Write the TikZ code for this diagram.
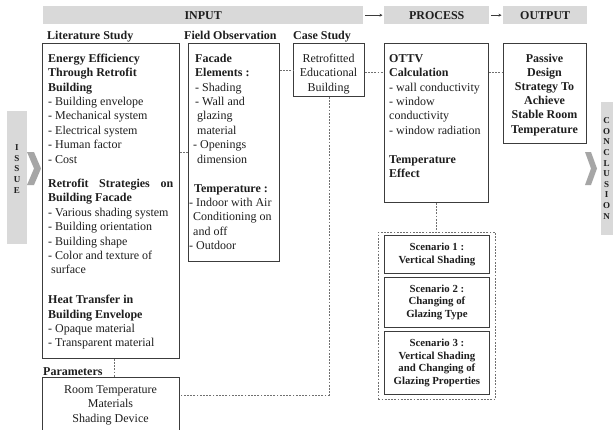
\documentclass[tikz,border=0pt]{standalone}
\usepackage{fontspec}
\setmainfont{Liberation Serif}
\usetikzlibrary{arrows.meta}
\definecolor{barc}{HTML}{D9D9D9}
\definecolor{chevc}{HTML}{A6A6A6}
\definecolor{linec}{HTML}{3C3C3C}
\definecolor{dashc}{HTML}{707070}
\definecolor{txtc}{HTML}{1E1E1E}
\tikzset{
  box/.style={draw=linec, line width=0.8pt, inner sep=0pt, anchor=north west},
  txt/.style={inner sep=0pt, anchor=north west, align=left, text=txtc, font=\fontsize{12}{14.4}\selectfont},
  ctxt/.style={txt, anchor=north, align=center},
  head/.style={inner sep=0pt, anchor=base west, text=txtc, font=\fontsize{12}{14.4}\selectfont\bfseries},
  bar/.style={fill=barc, inner sep=0pt, anchor=north west, text=txtc, font=\fontsize{12}{14.4}\selectfont\bfseries},
  link/.style={draw=dashc, line width=0.6pt, dash pattern=on 1.8pt off 1.4pt},
  scen/.style={box, align=center, text=txtc, font=\fontsize{10.8}{12.4}\selectfont\bfseries, minimum width=105pt},
  flow/.style={draw=linec, line width=0.6pt, -{Stealth[length=3pt,width=3pt]}},
  vlet/.style={inner sep=0pt, align=center, text=txtc, font=\fontsize{9}{10.6}\selectfont\bfseries},
}
\begin{document}
\begin{tikzpicture}[x=1pt,y=-1pt]
\useasboundingbox (0,0) rectangle (613,429);
\fill[white] (0,0) rectangle (613,429);

% top bars
\node[bar, minimum width=320pt, minimum height=18pt] (input) at (43,6) {INPUT};
\node[bar, minimum width=105pt, minimum height=18pt] (process) at (384,6) {PROCESS};
\node[bar, minimum width=84pt, minimum height=18pt] (output) at (503,6) {OUTPUT};
\draw[flow, shorten <=2pt, shorten >=1.5pt] (input.east) -- (process.west);
\draw[flow, shorten <=1.5pt, shorten >=1.5pt] (process.east) -- (output.west);

% side bars
\node[bar, minimum width=20pt, minimum height=133pt] (issue) at (7,111) {};
\node[vlet] (issuetxt) at (17,169) {I\\S\\S\\U\\E};
\fill[chevc] (27,152) -- (34,152) -- (41,168.5) -- (34,185) -- (27,185) -- (34,168.5) -- cycle;
\node[bar, minimum width=20pt, minimum height=133pt] (concl) at (601,102) {};
\node[vlet] (concltxt) at (606.5,168.5) {C\\O\\N\\C\\L\\U\\S\\I\\O\\N};
\fill[chevc] (585,152) -- (591,152) -- (597,168.5) -- (591,185) -- (585,185) -- (591,168.5) -- cycle;

% headings
\node[head] (hlit) at (47,39) {Literature Study};
\node[head] (hfield) at (184,39) {Field Observation};
\node[head] (hcase) at (293,39) {Case Study};
\node[head] (hparam) at (43,375) {Parameters};

% boxes
\node[box, minimum width=137pt, minimum height=315pt] (lit) at (42,43) {};
\node[box, minimum width=91pt, minimum height=218pt] (field) at (188,43) {};
\node[box, minimum width=71pt, minimum height=53pt] (case) at (293,43) {};
\node[box, minimum width=104pt, minimum height=159pt] (ottv) at (384,43) {};
\node[box, minimum width=83pt, minimum height=100pt] (passive) at (503,43) {};
\node[box, minimum width=137pt, minimum height=60pt] (param) at (42,377) {};

% literature text
\node[txt] (littext) at (48,51.92) {\strut\textbf{Energy Efficiency}\\
\textbf{Through Retrofit}\\
\textbf{Building}\\
- Building envelope\\
- Mechanical system\\
- Electrical system\\
- Human factor\\
- Cost\\[10pt]
\makebox[125pt][s]{\textbf{Retrofit Strategies on}}\\
\textbf{Building Facade}\\
- Various shading system\\
- Building orientation\\
- Building shape\\
- Color and texture of\\
\hspace*{3pt}surface\\[15.5pt]
\textbf{Heat Transfer in}\\
\textbf{Building Envelope}\\
- Opaque material\\
- Transparent material};

% field text
\node[txt] (fieldtext) at (195,51.92) {\strut\textbf{Facade}\\
\textbf{Elements :}\\
- Shading\\
- Wall and\\
\hspace*{2pt}glazing\\
\hspace*{2pt}material\\
\hspace*{-2pt}- Openings\\
\hspace*{2pt}dimension\\[14.6pt]
\hspace*{-1pt}\textbf{Temperature :}\\
\hspace*{-6pt}- Indoor with Air\\
\hspace*{-2pt}Conditioning on\\
\hspace*{-2pt}and off\\
\hspace*{-6pt}- Outdoor};

% case text
\node[ctxt] (casetext) at (328.5,51.92) {\strut Retrofitted\\Educational\\Building};

% ottv text
\node[txt] (ottvtext) at (389,51.92) {\strut\textbf{OTTV}\\
\textbf{Calculation}\\
- wall conductivity\\
- window\\
conductivity\\
- window radiation\\[14.6pt]
\textbf{Temperature}\\
\textbf{Effect}};

% passive text
\node[ctxt, font=\fontsize{12}{14.2}\selectfont\bfseries] (passivetext) at (544.5,51.92) {\strut Passive\\Design\\Strategy To\\Achieve\\Stable Room\\Temperature};

% parameters text
\node[ctxt] (paramtext) at (110.5,382.92) {\strut Room Temperature\\Materials\\Shading Device};

% scenarios
\node[box, link, minimum width=117pt, minimum height=167pt] (group) at (378,232) {};
\node[scen, minimum height=38pt] (s1) at (384,235) {Scenario 1 :\\Vertical Shading};
\node[scen, minimum height=50pt] (s2) at (384,277) {Scenario 2 :\\Changing of\\Glazing Type};
\node[scen, minimum height=63pt] (s3) at (384,331) {Scenario 3 :\\Vertical Shading\\and Changing of\\Glazing Properties};

% dashed connectors
\draw[link] ([yshift=-109pt]lit.north east) -- ([yshift=-109pt]field.north west);
\draw[link] ([yshift=-27pt]field.north east) -- ([yshift=-27pt]case.north west);
\draw[link] ([yshift=-29pt]case.north east) -- ([yshift=-29pt]ottv.north west);
\draw[link] ([yshift=-29pt]ottv.north east) -- ([yshift=-29pt]passive.north west);
\draw[link] (case.south) |- ([yshift=-18pt]param.north east);
\draw[link] (ottv.south) -- (ottv.south |- group.north);
\draw[link] ([xshift=3.5pt]lit.south) -- ([xshift=3.5pt]param.north);
\end{tikzpicture}
\end{document}
